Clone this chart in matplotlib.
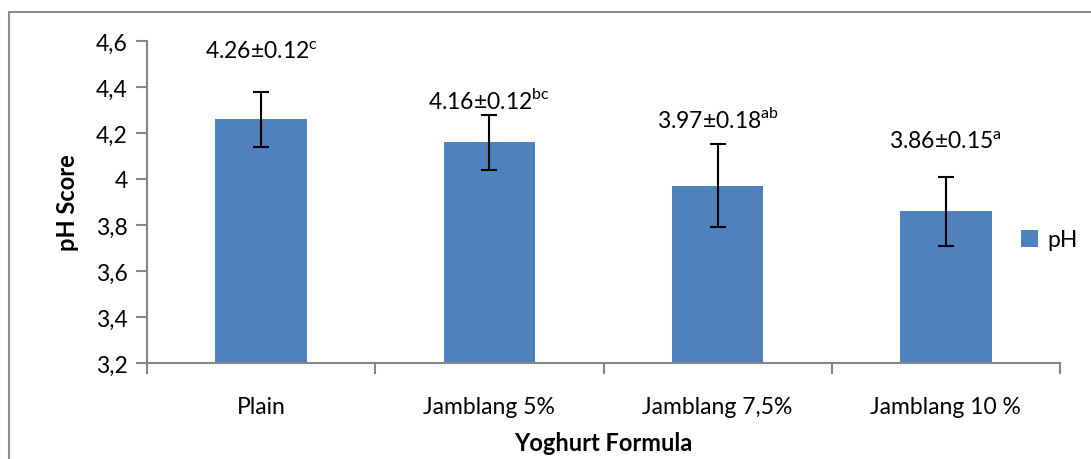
import matplotlib
matplotlib.use('Agg')
import matplotlib.pyplot as plt
from matplotlib.patches import Rectangle
from matplotlib.ticker import FuncFormatter, MultipleLocator

plt.rcParams['font.family'] = ['Lato', 'DejaVu Sans']
plt.rcParams['mathtext.fontset'] = 'custom'
plt.rcParams['mathtext.rm'] = 'Lato'

formulas = ['Plain', 'Jamblang 5%', 'Jamblang 7,5%', 'Jamblang 10 %']
ph_mean = [4.26, 4.16, 3.97, 3.86]
ph_sd = [0.12, 0.12, 0.18, 0.15]
letters = ['c', 'bc', 'ab', 'a']
label_y = [4.555, 4.345, 4.262, 4.165]

blue = '#4F81BD'
grey = '#868686'
fs = 16.5

fig = plt.figure(figsize=(10.91, 4.60), dpi=100)
ax = fig.add_axes([147/1091, 1 - 364/460, (1060 - 147)/1091, (364 - 42)/460])

x = list(range(len(formulas)))
ax.bar(x, [m - 3.2 for m in ph_mean], bottom=3.2, width=0.4, color=blue, label='pH', zorder=2)
ax.errorbar(x, ph_mean, yerr=ph_sd, fmt='none', ecolor='black', elinewidth=1.5,
            capsize=6, capthick=1.5, zorder=3)

for xi, m, s, let, ly in zip(x, ph_mean, ph_sd, letters, label_y):
    ax.text(xi, ly, f'{m:.2f}±{s:.2f}' + r'$^{\mathrm{' + let + '}}$',
            ha='center', va='center', fontsize=fs)

ax.set_xlim(-0.5, 3.5)
ax.set_ylim(3.2, 4.6)
ax.yaxis.set_major_locator(MultipleLocator(0.2))
ax.yaxis.set_major_formatter(FuncFormatter(lambda v, p: f'{v:g}'.replace('.', ',')))
ax.set_xticks(x)
ax.set_xticklabels(formulas, fontsize=fs)
ax.set_xticks([-0.5, 0.5, 1.5, 2.5, 3.5], minor=True)
ax.tick_params(axis='x', which='major', length=0, pad=24)
ax.tick_params(axis='x', which='minor', length=8, color=grey, width=1.5)
ax.tick_params(axis='y', length=8, color=grey, width=1.5, labelsize=fs, pad=6)

for side in ['top', 'right']:
    ax.spines[side].set_visible(False)
for side in ['left', 'bottom']:
    ax.spines[side].set_color(grey)
    ax.spines[side].set_linewidth(1.5)

ax.set_ylabel('pH Score', fontsize=17, fontweight='bold', labelpad=12)
ax.set_xlabel('Yoghurt Formula', fontsize=17, fontweight='bold', labelpad=10)

ax.legend(loc='center left', bbox_to_anchor=(1021/1091, 1 - 241/460),
          bbox_transform=fig.transFigure, frameon=False, borderaxespad=0, borderpad=0,
          fontsize=fs, handlelength=0.75, handleheight=0.75, handletextpad=0.4)

fig.patches.append(Rectangle((9/1091, -0.1), 1.2, 1.1 - 13/460, transform=fig.transFigure,
                             fill=False, edgecolor='#8c8c8c', linewidth=1.5))

fig.savefig('out.png', dpi=100)
